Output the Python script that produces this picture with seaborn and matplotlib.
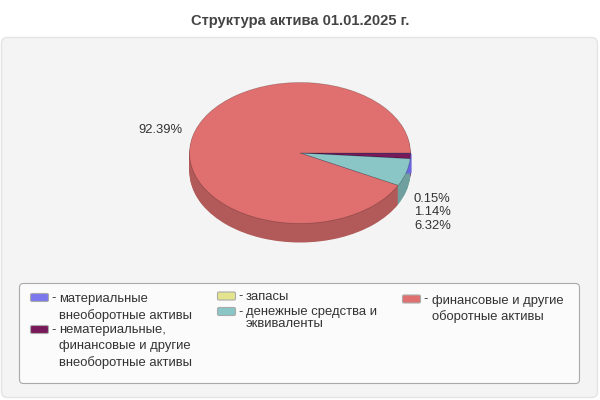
import numpy as np
import matplotlib
matplotlib.use("Agg")
import matplotlib.pyplot as plt
from matplotlib.patches import FancyBboxPatch
import seaborn as sns

sns.set_theme(style="white")
plt.rcParams['font.family'] = ['Liberation Sans', 'DejaVu Sans']

title = "Структура актива 01.01.2025 г."
values = [0.15, 1.14, 0.0, 6.32, 92.39]
colors = ["#7b78ee", "#781a5a", "#e4e48e", "#8ac6c6", "#e07070"]
side_colors = ["#6a66dd", "#5c1445", "#b0b06c", "#6f9f9f", "#b25a5a"]
names = [["материальные", "внеоборотные активы"],
         ["нематериальные,", "финансовые и другие", "внеоборотные активы"],
         ["запасы"],
         ["денежные средства и", "эквиваленты"],
         ["финансовые и другие", "оборотные активы"]]
labels = ["92.39%", "0.15%", "1.14%", "6.32%"]

fig = plt.figure(figsize=(6, 4), dpi=100, facecolor="white")
bg = fig.add_axes([0, 0, 1, 1])
bg.set_xlim(0, 600); bg.set_ylim(400, 0); bg.axis("off")
bg.add_patch(FancyBboxPatch((1.5, 37.5), 596, 360, boxstyle="round,pad=0,rounding_size=6",
                            fc="#f4f4f4", ec="#e4e4e4", lw=1))
bg.add_patch(FancyBboxPatch((19.5, 283.5), 560, 100, boxstyle="round,pad=0,rounding_size=4",
                            fc="#fbfbfb", ec="#aaaaaa", lw=0.8))
bg.text(300, 21.5, title, ha="center", va="center", fontsize=10.6, fontweight="bold", color="#444444")

# pie axes: pixel box of the ellipse, stretched so the pie is an ellipse
cx, cy, rx, ry, depth = 300, 153, 110.5, 70.5, 19
ax = fig.add_axes([0, 0, 1, 1], zorder=2)
ax.patch.set_alpha(0)
ax.axis("off")
for d in range(depth, 0, -1):
    side, _ = ax.pie(values, colors=side_colors, startangle=0, counterclock=False, radius=1,
                     center=(0, -d / ry), frame=False, normalize=True,
                     wedgeprops=dict(lw=0.6, edgecolor="none"))
    side[0].set_edgecolor(side_colors[0])
    side[0].set_linewidth(1.2)
    side[0].set_zorder(3)
top, _ = ax.pie(values, colors=colors, startangle=0, counterclock=False, radius=1,
                center=(0, 0), frame=False, normalize=True,
                wedgeprops=dict(lw=0.5, edgecolor="#00000040"))
for w in top:
    w.set_zorder(4)
ax.set_aspect("auto")
ax.set_xlim(-cx / rx, (600 - cx) / rx)
ax.set_ylim((cy - 400) / ry, cy / ry)

txt = dict(fontsize=9.4, color="#333333", ha="left", va="center", zorder=5)
bg.text(138, 130, labels[0], **txt)
for lab, x, y in zip(labels[1:], [414, 414, 414], [198, 211.8, 225.8]):
    bg.text(x, y + 0.5, lab, **txt)

swatch_x = [30.5, 30.5, 217.5, 217.5, 402.5]
swatch_y = [297.5, 329.5, 296, 311.5, 299]
text_x = [59, 59, 246, 246, 432]
text_y = [299.3, 330.3, 297, 311.7, 301]
line_h = [16, 16, 12.6, 12.6, 16]
for i, c in enumerate(colors):
    bg.add_patch(FancyBboxPatch((swatch_x[i], swatch_y[i] - 4), 18, 8,
                                boxstyle="round,pad=0,rounding_size=1.5",
                                fc=c, ec="#aaaaaa", lw=0.8, zorder=4))
    bg.text(swatch_x[i] + 21, swatch_y[i] + 0.5, "-", fontsize=9.4, color="#333333",
            va="center", zorder=5)
    for j, l in enumerate(names[i]):
        bg.text(text_x[i], text_y[i] + j * line_h[i], l, fontsize=9.4, color="#333333",
                va="center", zorder=5)

fig.savefig("out.png", dpi=100)
